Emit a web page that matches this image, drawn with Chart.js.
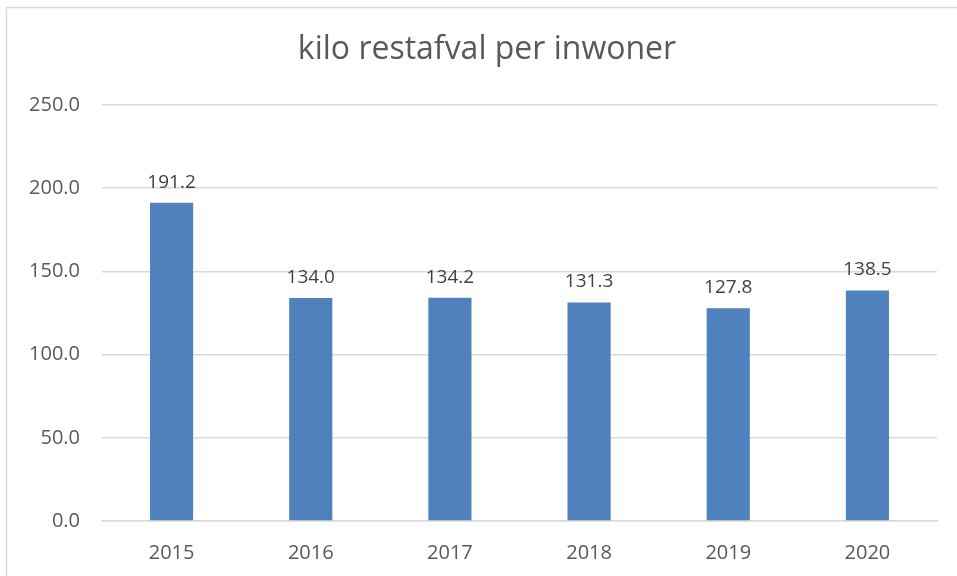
<!DOCTYPE html>
<html>
<head>
<meta charset="utf-8">
<script src="https://cdn.jsdelivr.net/npm/chart.js@4"></script>
<style>
  html, body { margin: 0; padding: 0; background: #fff; }
  #wrap { width: 957px; height: 576px; position: relative; }
</style>
</head>
<body>
<div id="wrap"><canvas id="chart" width="957" height="576"></canvas></div>
<script>
const years = ["2015", "2016", "2017", "2018", "2019", "2020"];
const kiloPerInwoner = [191.2, 134.0, 134.2, 131.3, 127.8, 138.5];
const yTicks = [0, 50, 100, 150, 200, 250];

const FONT = "'Open Sans', sans-serif";

// light frame around the chart, runs off the right and bottom edges
const frame = {
    id: "frame",
    beforeDraw(chart) {
        const c = chart.ctx;
        c.save();
        c.strokeStyle = "#d9d9d9";
        c.lineWidth = 1.5;
        c.strokeRect(6.5, 7.5, 1200, 1200);
        c.restore();
    },
    // title in the original sits centred on the frame, not on the canvas
    afterLayout(chart) {
        if (chart.titleBlock) chart.titleBlock.left = 37;
    },
};

// value labels above the bars
const valueLabels = {
    id: "valueLabels",
    afterDatasetsDraw(chart) {
        const c = chart.ctx;
        const meta = chart.getDatasetMeta(0);
        c.save();
        c.font = "19px " + FONT;
        c.fillStyle = "#404040";
        c.textAlign = "center";
        c.textBaseline = "bottom";
        meta.data.forEach((bar, i) => {
            c.fillText(kiloPerInwoner[i].toFixed(1), bar.x, bar.y - 11);
        });
        c.restore();
    },
};

const ctx = document.getElementById("chart").getContext("2d");
const chart = new Chart(ctx, {
    type: "bar",
    data: {
        labels: years,
        datasets: [
            {
                label: "kilo restafval per inwoner",
                data: kiloPerInwoner,
                backgroundColor: "#4f81bd",
                barPercentage: 0.31,
                categoryPercentage: 1,
            },
        ],
    },
    options: {
        responsive: false,
        animation: false,
        layout: {
            padding: { left: 10, right: 20, top: 0, bottom: 0 },
        },
        scales: {
            y: {
                min: 0,
                max: 250,
                afterBuildTicks(scale) {
                    scale.ticks = yTicks.map((v) => ({ value: v }));
                },
                afterFit(scale) {
                    scale.width = 92;
                },
                border: { display: false },
                grid: {
                    color: "#d9d9d9",
                    lineWidth: 1.5,
                    drawTicks: false,
                },
                ticks: {
                    padding: 22,
                    color: "#595959",
                    font: { family: FONT, size: 20 },
                    callback: (v) => Number(v).toFixed(1),
                },
            },
            x: {
                afterFit(scale) {
                    scale.height = 55;
                },
                border: { color: "#d9d9d9", width: 1.5 },
                grid: { display: false, drawTicks: false },
                ticks: {
                    padding: 20,
                    color: "#595959",
                    font: { family: FONT, size: 20 },
                },
            },
        },
        plugins: {
            legend: { display: false },
            tooltip: { enabled: false },
            title: {
                display: true,
                text: "kilo restafval per inwoner",
                color: "#595959",
                font: { family: FONT, size: 32, weight: "normal" },
                padding: { top: 31, bottom: 35.6 },
            },
        },
    },
    plugins: [frame, valueLabels],
});
</script>
</body>
</html>
